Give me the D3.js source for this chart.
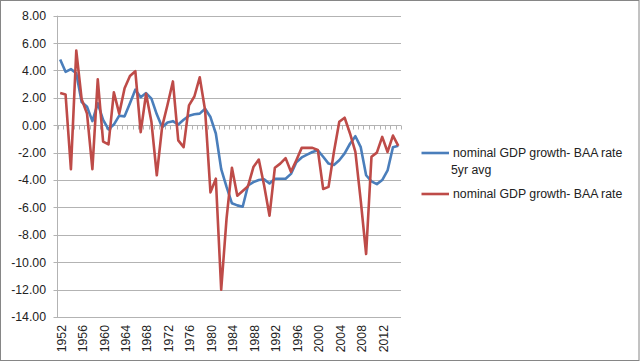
<!DOCTYPE html>
<html>
    <head>
        <meta charset="utf-8">
        <script src="https://d3js.org/d3.v7.min.js"></script>
        <style>
            body { margin: 0; background: #fff; }
            svg { display: block; font-family: 'Liberation Sans', Arial, sans-serif; }
        </style>
    </head>
    <body>
        <svg id="chart" width="640" height="362"></svg>
        <script>
            var years = d3.range(1952, 2016);
            var avg5 = [4.8, 3.9, 4.1, 3.8, 1.7, 1.35, 0.3, 1.6, 0.4, -0.3, 0.05, 0.7, 0.65, 1.6, 2.6, 2.05,
                2.35, 1.95, 0.8, -0.15, 0.2, 0.3, 0.05, 0.4, 0.7, 0.8, 0.85, 1.2, 0.6, -0.6, -3.2, -4.5,
                -5.7, -5.85, -5.95, -4.4, -4.15, -4.0, -3.95, -4.25, -3.9, -3.9, -3.9, -3.55, -2.7, -2.35,
                -2.15, -1.95, -1.83, -2.3, -2.8, -2.9, -2.55, -2.05, -1.35, -0.8, -1.6, -3.65, -4.1, -4.3,
                -4.0, -3.3, -1.6, -1.5];
            var annual = [2.35, 2.25, -3.2, 5.45, 1.9, 0.85, -3.2, 3.35, -1.2, -1.4, 2.4, 0.85, 2.7, 3.6, 3.95, -0.5,
                2.3, 0.25, -3.65, -0.1, 1.5, 3.2, -1.1, -1.6, 1.45, 2.1, 3.5, 1.1, -4.9, -3.9, -12.0, -6.8,
                -3.1, -5.15, -4.8, -4.45, -3.05, -2.5, -4.4, -6.6, -3.1, -2.8, -2.4, -3.4, -2.55, -1.65,
                -1.65, -1.65, -1.8, -4.65, -4.5, -1.95, 0.25, 0.55, -0.6, -1.95, -5.5, -9.4, -2.3, -2.0,
                -0.85, -1.95, -0.75, -1.5];
            var yTicks = d3.range(-14, 9, 2);
            var series = [
                { name: 'nominal GDP growth- BAA rate 5yr avg', lines: ['nominal GDP growth- BAA rate', '5yr avg'], values: avg5, color: '#4a7ebb' },
                { name: 'nominal GDP growth- BAA rate', lines: ['nominal GDP growth- BAA rate'], values: annual, color: '#be4b48' }
            ];

            var svg = d3.select('#chart');

            // outer frame
            svg.append('rect')
                .attr('x', 0.5).attr('y', 0.5)
                .attr('width', 638.5).attr('height', 360)
                .attr('fill', '#fff')
                .attr('stroke', '#868686');

            var x = d3.scaleBand().domain(years).range([57.5, 401]).padding(0);
            var y = d3.scaleLinear().domain([-14, 8]).range([317, 15.7]);
            var cx = (d) => x(d) + x.bandwidth() / 2;
            var fmt = (d) => d3.format('.2f')(d).replace('\u2212', '-');

            // gridlines
            svg.append('g')
                .selectAll('line')
                .data(yTicks)
                .join('line')
                .attr('x1', 53.5).attr('x2', 401)
                .attr('y1', (d) => Math.round(y(d)) + 0.5)
                .attr('y2', (d) => Math.round(y(d)) + 0.5)
                .attr('stroke', '#b3b3b3');

            // y axis
            svg.append('line')
                .attr('x1', 57.5).attr('x2', 57.5)
                .attr('y1', y(8)).attr('y2', y(-14))
                .attr('stroke', '#b3b3b3');

            svg.append('g')
                .selectAll('text')
                .data(yTicks)
                .join('text')
                .attr('x', 46)
                .attr('y', (d) => y(d))
                .attr('dy', '0.36em')
                .attr('text-anchor', 'end')
                .attr('font-size', 12.3)
                .attr('fill', '#222')
                .text(fmt);

            // category axis at zero
            var y0 = Math.round(y(0)) + 0.5;
            svg.append('line')
                .attr('x1', 57.5).attr('x2', 401)
                .attr('y1', y0).attr('y2', y0)
                .attr('stroke', '#b3b3b3');

            svg.append('g')
                .selectAll('line')
                .data(years.concat([2016]))
                .join('line')
                .attr('x1', (d) => Math.round(d === 2016 ? 401 : x(d)) + 0.5)
                .attr('x2', (d) => Math.round(d === 2016 ? 401 : x(d)) + 0.5)
                .attr('y1', y0).attr('y2', y0 + 4)
                .attr('stroke', '#b3b3b3');

            svg.append('g')
                .selectAll('text')
                .data(years.filter((d) => (d - 1952) % 4 === 0))
                .join('text')
                .attr('transform', (d) => 'translate(' + (cx(d) + 1) + ',325) rotate(-90)')
                .attr('dy', '0.36em')
                .attr('text-anchor', 'end')
                .attr('font-size', 12.3)
                .attr('fill', '#222')
                .text((d) => d);

            // lines
            var line = d3.line()
                .x((d, i) => cx(years[i]))
                .y((d) => y(d));

            svg.append('g')
                .selectAll('path')
                .data(series)
                .join('path')
                .attr('d', (s) => line(s.values))
                .attr('fill', 'none')
                .attr('stroke', (s) => s.color)
                .attr('stroke-width', 2.6)
                .attr('stroke-linejoin', 'round');

            // legend
            var legendY = [153, 194];
            var legend = svg.append('g')
                .selectAll('g')
                .data(series)
                .join('g')
                .attr('transform', (s, i) => 'translate(0,' + legendY[i] + ')');

            legend.append('line')
                .attr('x1', 421.5).attr('x2', 449)
                .attr('y1', 0).attr('y2', 0)
                .attr('stroke', (s) => s.color)
                .attr('stroke-width', 2.6);

            legend.append('text')
                .attr('x', 453)
                .attr('font-size', 12.3)
                .attr('fill', '#222')
                .selectAll('tspan')
                .data((s) => s.lines)
                .join('tspan')
                .attr('x', (d, i) => (i === 0 ? 453 : 451))
                .attr('y', (d, i) => i * 17)
                .attr('dy', '0.36em')
                .text((d) => d);
        </script>
    </body>
</html>
